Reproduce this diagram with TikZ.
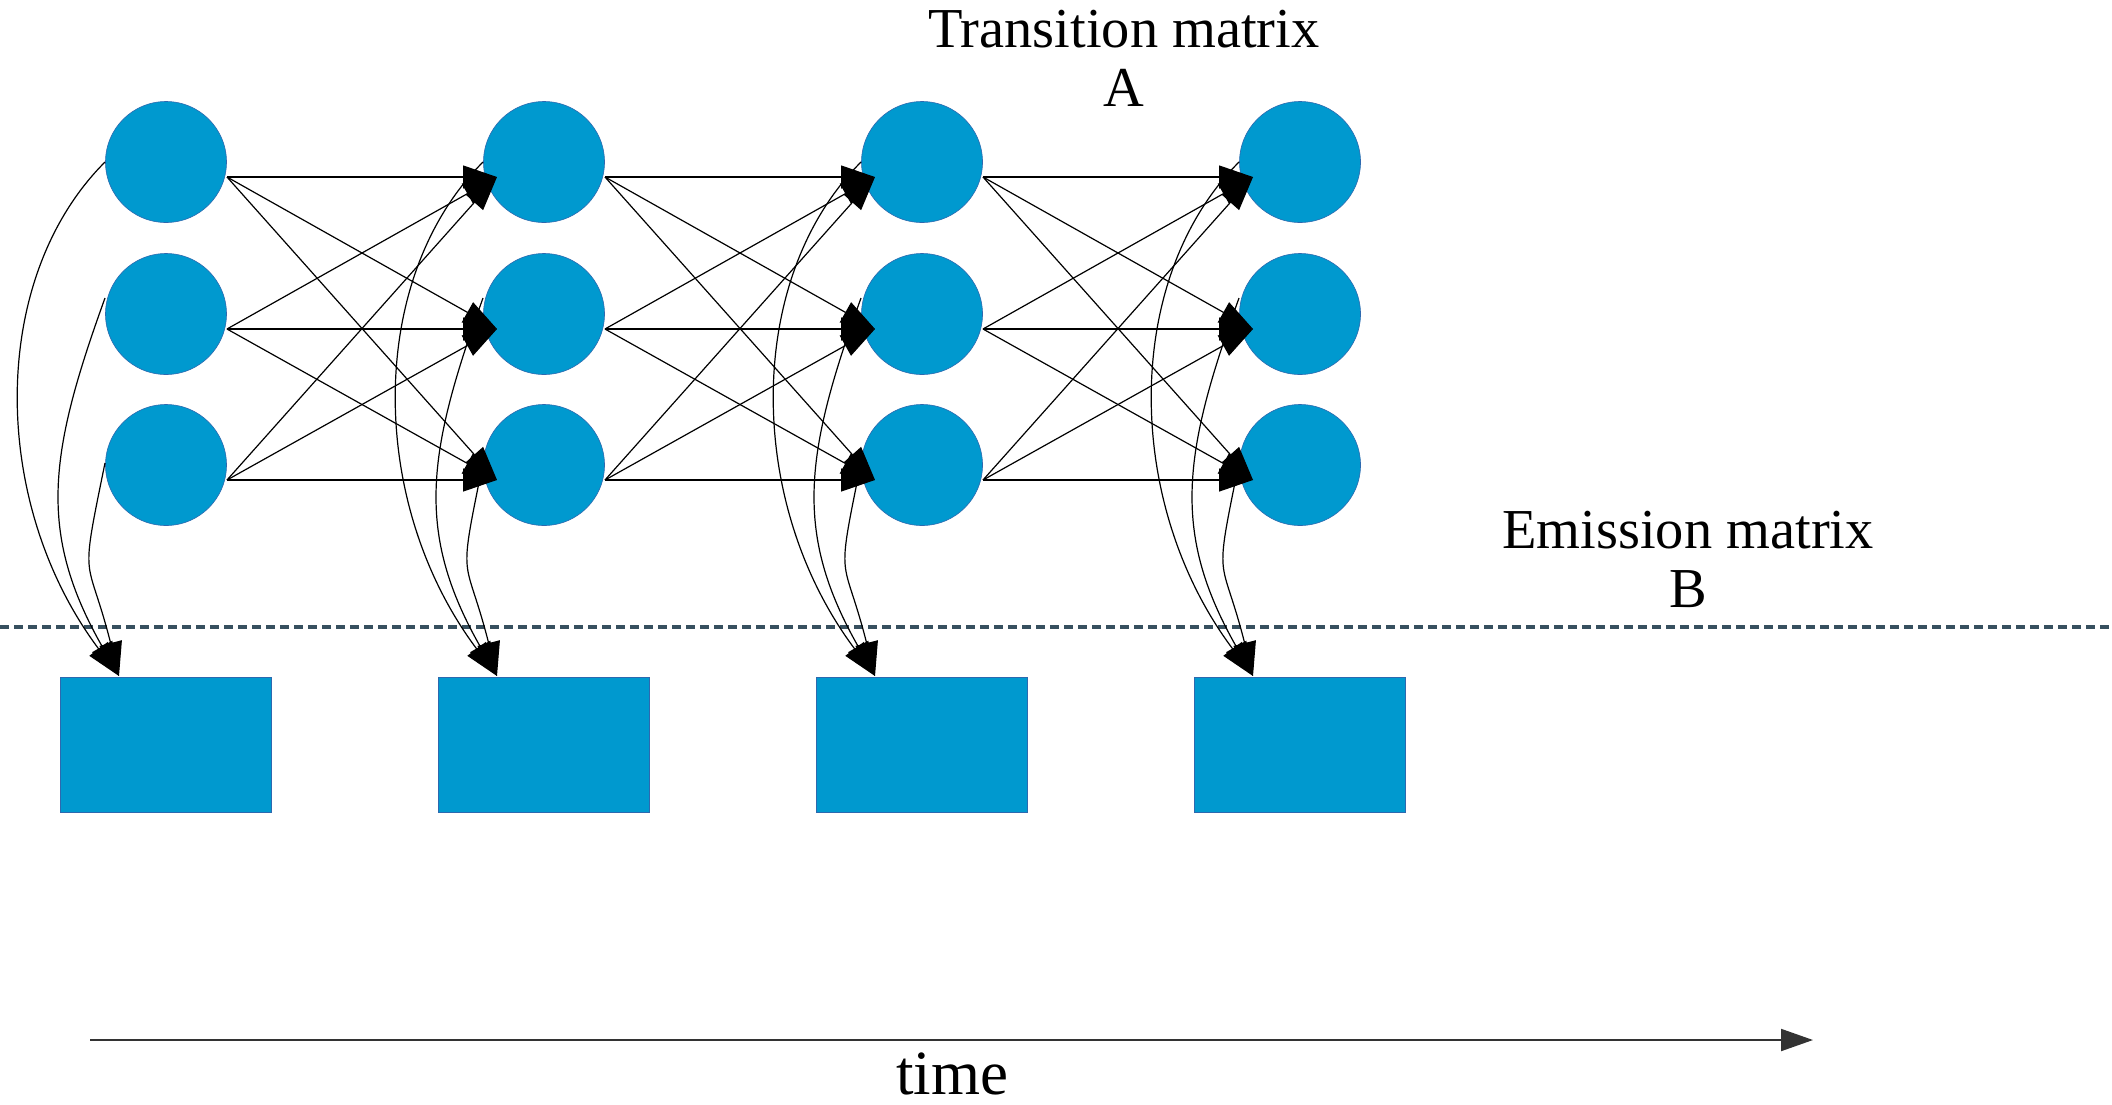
\documentclass[tikz,border=0pt]{standalone}
\usepackage{fontspec}
\setmainfont{Liberation Serif}
\usetikzlibrary{arrows.meta}
\definecolor{stateblue}{RGB}{0,153,207}
\definecolor{stateedge}{RGB}{45,105,175}
\definecolor{divider}{RGB}{55,80,95}
\begin{document}
\begin{tikzpicture}[x=0.5pt,y=-0.5pt,
  state/.style={circle, fill=stateblue, draw=stateedge, line width=0.3pt,
    minimum size=60.5pt, inner sep=0pt},
  obs/.style={rectangle, fill=stateblue, draw=stateedge, line width=0.3pt,
    minimum width=105.5pt, minimum height=67.5pt, inner sep=0pt},
  bigtip/.style={-{Triangle[length=17pt,width=11.5pt]}},
  trans/.style={bigtip, line width=0.6pt, black},
  emit/.style={bigtip, line width=0.6pt, black},
  heading/.style={font=\fontsize{28.2}{29.5}\selectfont, align=center,
    anchor=base, inner sep=0pt}]
\useasboundingbox (0,0) rectangle (2112,1104);

% hidden states (circles) and observations (boxes), one column per time step
\foreach \k/\x in {1/166,2/544,3/922,4/1300}{
  \foreach \i/\y/\d in {1/162/0,2/314/-16,3/465/-2}{
    \node[state] (s-\k-\i) at (\x,\y) {};
    \coordinate (o-\k-\i) at (\x+61,\y+15);
    \coordinate (n-\k-\i) at (\x-47,\y+15);
    \coordinate (e-\k-\i) at (\x-61,\y+\d);
  }
  \node[obs] (b-\k) at (\x,744.5) {};
  \coordinate (t-\k) at (\x-47,676);
}

% separator between hidden and observed layers
\coordinate (dL) at (0,627);
\coordinate (dR) at (2112,627);
\draw[divider, line width=2pt, dash pattern=on 4.5pt off 2.5pt] (dL) -- (dR);

% transitions between consecutive time steps
\foreach \k in {1,2,3}{
  \pgfmathtruncatemacro\nx{\k+1}
  \foreach \i in {1,2,3}{
    \foreach \j in {1,2,3}{
      \draw[trans] (o-\k-\i) -- (n-\nx-\j);
    }
  }
}

% emissions from each state to its observation
\foreach \k in {1,2,3,4}{
  \draw[emit] (e-\k-1) .. controls +(-117,117) and +(-129,-172) .. (t-\k);
  \draw[emit] (e-\k-2) .. controls +(-56,155) and +(-82,-144) .. (t-\k);
  \draw[emit] (e-\k-3) .. controls +(-26,127) and +(-32,-126) .. (t-\k);
}

% labels (anchored on the baseline of their last line)
\node[heading] (tA) at (1124,106) {Transition matrix\\A};
\node[heading] (eB) at (1688,607) {Emission matrix\\B};

% time axis
\coordinate (t0) at (90,1040);
\coordinate (t1) at (1813,1040);
\draw[black!80, line width=1pt, -{Triangle[length=16pt,width=11pt]}] (t0) -- (t1);
\node[font=\fontsize{31.5}{34}\selectfont, anchor=base, inner sep=0pt] (time) at (952,1094) {time};
\end{tikzpicture}
\end{document}
